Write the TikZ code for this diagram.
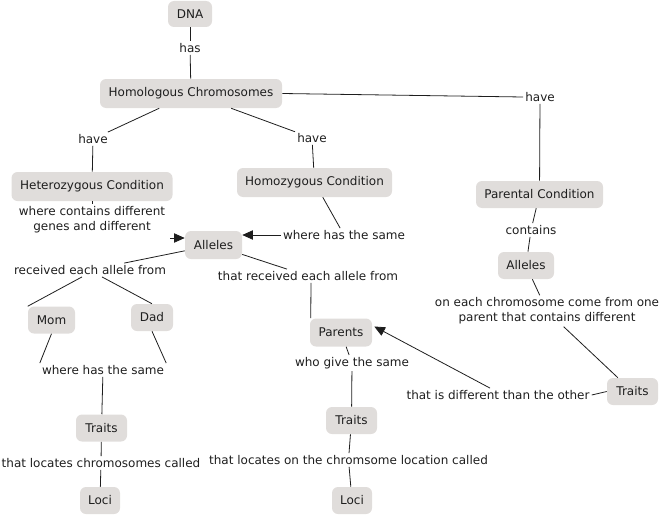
\documentclass[tikz,border=0pt]{standalone}
\usepackage{fontspec}
\setmainfont{DejaVu Sans}
\usetikzlibrary{arrows.meta,calc}
\definecolor{cfill}{RGB}{224,221,219}
\definecolor{ink}{RGB}{30,30,30}
\tikzset{
  concept/.style={fill=cfill, rounded corners=4.5pt, text=ink,
    font=\fontsize{9}{11}\selectfont, inner sep=0pt, minimum height=20.25pt},
  bw/.style={minimum width=#1*0.75pt},
  bh/.style={minimum height=#1*0.75pt},
  lbl/.style={text=ink, font=\fontsize{9}{11.5}\selectfont, inner sep=1.5pt, align=center},
  link/.style={draw=ink, line width=0.6pt},
  arr/.style={link, -{Triangle[length=8pt,width=7pt]}}
}
\begin{document}
\begin{tikzpicture}[x=0.75pt,y=-0.75pt]
\useasboundingbox (0,0) rectangle (666,517);
% concepts
\node[concept,bw=44,bh=26] (dna) at (190,14) {DNA};
\node[concept,bw=182,bh=29] (hc) at (191,93.5) {Homologous Chromosomes};
\node[concept,bw=161,bh=29] (het) at (92,186.5) {Heterozygous Condition};
\node[concept,bw=155,bh=29] (homo) at (314.5,182.5) {Homozygous Condition};
\node[concept,bw=127] (pc) at (539.5,194.5) {Parental Condition};
\node[concept,bw=57,bh=28] (al1) at (213.5,245) {Alleles};
\node[concept,bw=56] (al2) at (526,265.5) {Alleles};
\node[concept,bw=51] (tr3) at (632.5,391.5) {Traits};
\node[concept,bw=47] (mom) at (51.5,320) {Mom};
\node[concept,bw=42] (dad) at (152,317.5) {Dad};
\node[concept,bw=62,bh=28] (par) at (341,332.5) {Parents};
\node[concept,bw=51] (tr1) at (101.5,428) {Traits};
\node[concept,bw=51] (tr2) at (351.5,420.5) {Traits};
\node[concept,bw=40] (loci1) at (100,500.5) {Loci};
\node[concept,bw=40] (loci2) at (352,500.5) {Loci};
% linking phrases
\node[lbl] (has) at (190,48) {has};
\node[lbl] (have1) at (93,139) {have};
\node[lbl] (have2) at (312,138) {have};
\node[lbl] (have3) at (540,97) {have};
\node[lbl] (hetl) at (92,219.5) {where contains different\\genes and different};
\node[lbl] (wh2) at (344,235) {where has the same};
\node[lbl] (cont) at (531,230) {contains};
\node[lbl] (onl) at (547,311) {on each chromosome come from one\\parent that contains different};
\node[lbl] (df) at (498,395) {that is different than the other};
\node[lbl] (rec) at (90,270) {received each allele from};
\node[lbl] (tra) at (308,276) {that received each allele from};
\node[lbl] (wh1) at (103,370) {where has the same};
\node[lbl] (who) at (352,363) {who give the same};
\node[lbl] (loc1l) at (101,463) {that locates chromosomes called};
\node[lbl] (loc2l) at (348.5,460) {that locates on the chromsome location called};
\coordinate (ht) at (170,238);
% connectors
\draw[link] (dna) -- (has);
\draw[link] (has) -- (hc);
\draw[link] (hc) -- (have1);
\draw[link] (have1) -- (het);
\draw[link] (hc) -- (have2);
\draw[link] (have2) -- (homo);
\draw[link] (hc.east) -- (have3.west);
\draw[link] (have3) -- (pc);
\draw[link] (het) -- (hetl);
\draw[arr] (ht) -- (ht -| al1.west);
\draw[link] (homo) -- (wh2);
\draw[arr] (wh2.west) -- (wh2.west -| al1.east);
\draw[link] (pc) -- (cont);
\draw[link] (cont) -- (al2);
\draw[link] (al2) -- (onl);
\draw[link] (onl) -- (tr3);
\draw[link] (tr3.west) -- (df.east);
\draw[arr] ($(df.north)+(-8,0)$) -- ($(par.east)+(2,-6)$);
\draw[link] (al1) -- (rec);
\draw[link] ($(rec.south)+(-8,0)$) -- (mom.north west);
\draw[link] ($(rec.south)+(12,0)$) -- (dad.north);
\draw[link] (mom.south) -- (wh1.north west);
\draw[link] (dad.south) -- (wh1.north east);
\draw[link] (wh1) -- (tr1);
\draw[link] (tr1) -- (loc1l);
\draw[link] (loc1l) -- (loci1);
\draw[link] (al1) -- (tra);
\draw[link] ($(tra.south)+(3,0)$) -- ($(par.north west)+(1,0)$);
\draw[link] (par) -- (who);
\draw[link] (who) -- (tr2);
\draw[link] (tr2) -- (loc2l);
\draw[link] (loc2l) -- (loci2);
\end{tikzpicture}
\end{document}
